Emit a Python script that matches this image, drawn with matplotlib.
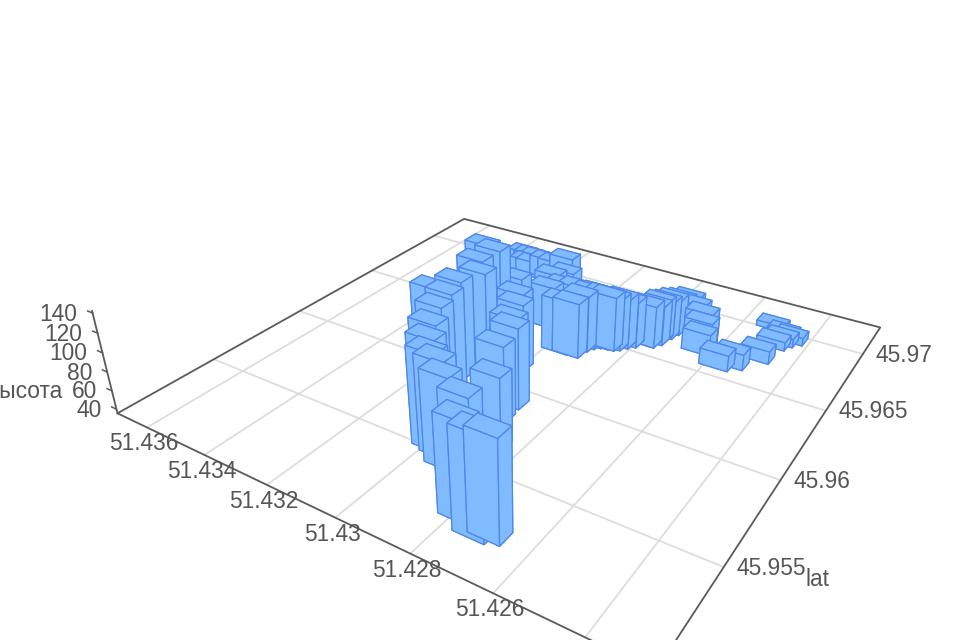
#!/usr/bin/env python
import numpy as np
import matplotlib
matplotlib.use('Agg')
from matplotlib import pyplot as plt
from mpl_toolkits.mplot3d import proj3d

plt.rcParams['font.family'] = ['Liberation Sans', 'DejaVu Sans']

lon = [51.42702,51.42731,51.42789,51.42839,51.42923,51.42959,51.42989,51.43044,51.43064,51.43128,
       51.43115,51.43210,51.43130,51.43098,51.43145,51.43191,51.43154,51.42877,51.42932,51.42935,
       51.42978,51.43021,51.43050,51.43112,51.43351,51.43326,51.43294,51.43304,51.43281,51.43240,
       51.43208,51.43167,51.43130,51.43100,51.43019,51.43057,51.43070,51.42968,51.42935,51.42930,
       51.42920,51.42907,51.42888,51.42871,51.42858,51.42845,51.42829,51.42790,51.42788,51.42775,
       51.42775,51.42767,51.42760,51.42746,51.42732,51.42705,51.42674,51.42655,51.42645,51.42573,
       51.42542,51.42496,51.42484,51.42471,51.42478,51.42452,51.42520]
lat = [45.95244,45.95224,45.95267,45.95393,45.95462,45.95505,45.95522,45.95626,45.95683,45.95846,
       45.95886,45.95974,45.95978,45.96068,45.96153,45.96308,45.96297,45.95655,45.95806,45.95910,
       45.96005,45.96151,45.96217,45.96359,45.96999,45.96995,45.96973,45.96907,45.96904,45.96932,
       45.96924,45.96930,45.96704,45.96759,45.96621,45.96607,45.96516,45.96358,45.96361,45.96426,
       45.96459,45.96481,45.96488,45.96493,45.96509,45.96541,45.96567,45.96607,45.96608,45.96644,
       45.96682,45.96714,45.96762,45.96796,45.96844,45.96817,45.96793,45.96721,45.96671,45.96597,
       45.96638,45.96743,45.96882,45.96926,45.96980,45.96964,45.97035]
height = [135.5,136,132.5,130.5,128.5,133,135,129,135,127.5,
          138,124.5,139.5,142,142,139.5,138.5,110,115,121,
          114,108.5,109.5,105.5,51.5,51.5,54,54,54,59,
          59,67.5,73,73,78,78,83.5,95.5,96.5,98,
          99,98,97,96,93.5,91.5,87,80,82.5,80,
          80.5,78,76,74,71.5,69,65.5,65,59,53,
          53,49.5,45,45,44,44,41.5]

lon_ticks = [51.436,51.434,51.432,51.43,51.428,51.426]
lon_grid = lon_ticks + [51.424]
lat_ticks = [45.97,45.965,45.96,45.955]
z_ticks = [40,60,80,100,120,140]

lon_lim = (51.4371, 51.4226)
lat_lim = (45.9503, 45.9727)
z_lim = (35.5, 142)
dlon, dlat = 0.0008, 0.00075

DARK = '#5a5a5a'
TEXT = '#555555'
GRID = '#dddddd'
FACE = '#80bbff'
EDGE = '#4d87ea'

fig = plt.figure(figsize=(9.6,6.4),dpi=100)
# camera fitted to the corners of the floor
S = 962.84
left = (526.96-0.095*S)/960.
bottom = (640-(320.07+0.095*S))/640.
ax = fig.add_axes([left,bottom,0.185*S/960.,0.185*S/640.],projection='3d')
ax.set_xlim(*lon_lim,view_margin=0)
ax.set_ylim(*lat_lim,view_margin=0)
ax.set_zlim(*z_lim,view_margin=0)
ax.set_proj_type('persp',focal_length=1)
ax.view_init(28.932,-57.32)
ax.set_box_aspect((3.1399,3.1120,0.6139),zoom=4.3872)
ax.set_axis_off()
ax.computed_zorder = False
M = ax.get_proj()

for x in lon_grid:
    ax.plot([x,x],lat_lim,[z_lim[0]]*2,color=GRID,lw=1.3,clip_on=False,zorder=1)
for y in lat_ticks:
    ax.plot(lon_lim,[y,y],[z_lim[0]]*2,color=GRID,lw=1.3,clip_on=False,zorder=1)

lo0,lo1 = lon_lim
la0,la1 = lat_lim
ax.plot([lo1,lo0,lo0,lo1,lo1],[la0,la0,la1,la1,la0],[z_lim[0]]*5,color=DARK,lw=1.3,clip_on=False,zorder=2)
ax.plot([lo0,lo0],[la0,la0],z_lim,color=DARK,lw=1.3,clip_on=False,zorder=2)
for z in z_ticks:
    ax.plot([lo0,lo0+0.00018],[la0,la0],[z,z],color=DARK,lw=1.1,clip_on=False,zorder=2)

# far bars first
depth = [(M@np.array([a,b,z_lim[0],1.]))[3] for a,b in zip(lon,lat)]
order = np.argsort(depth)[::-1]
for k,i in enumerate(order):
    p = ax.bar3d(lon[i]-dlon/2,lat[i]-dlat/2,z_lim[0],dlon,dlat,height[i]-z_lim[0],
                 color=FACE,edgecolor=EDGE,linewidth=0.9,shade=False,zorder=3+k*0.01)
    p.set_clip_on(False)

def label(x,y,z,txt,dx,dy,ha='center'):
    X,Y,_ = proj3d.proj_transform(x,y,z,M)
    ax.annotate(txt,xy=(X,Y),xycoords='data',xytext=(dx*0.72,dy*0.72),textcoords='offset points',
                ha=ha,va='center',fontsize=16.4,color=TEXT,annotation_clip=False,zorder=10)

for x in lon_ticks:
    label(x,la0,z_lim[0],('%g' % x),-3,-16.5)
for y in lat_ticks:
    label(lo1,y,z_lim[0],('%g' % y),13,-1,ha='left')
for z in z_ticks:
    label(lo0,la0,z,str(z),-15,-1,ha='right')
label(lo1,45.955,z_lim[0],'lat',82,-12,ha='left')
label(lo0,la0,60,'высота',-49,-1,ha='right')

fig.savefig('out.png')
